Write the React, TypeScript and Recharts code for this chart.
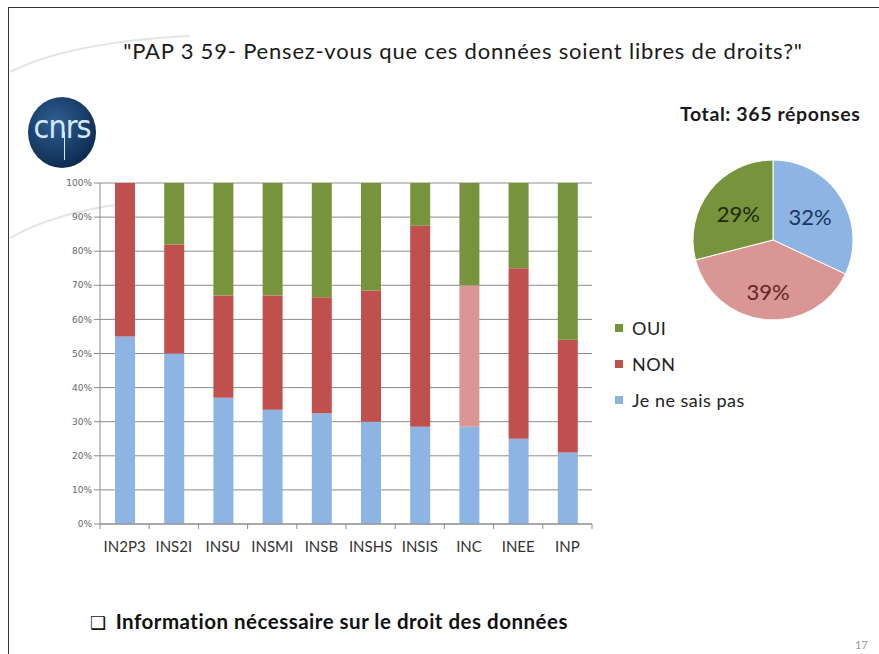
import React from 'react';
import { BarChart, Bar, XAxis, YAxis, CartesianGrid, Cell, PieChart, Pie } from 'recharts';

// Bar chart: share of answers per institute (percent, bottom to top)
const categories = ['IN2P3', 'INS2I', 'INSU', 'INSMI', 'INSB', 'INSHS', 'INSIS', 'INC', 'INEE', 'INP'];
const jeNeSaisPas = [55, 50, 37, 33.5, 32.5, 30, 28.5, 28.5, 25, 21];
const non = [45, 32, 30, 33.5, 34, 38.5, 59, 41.5, 50, 33];
const oui = [0, 18, 33, 33, 33.5, 31.5, 12.5, 30, 25, 46];
const yTicks = [0, 10, 20, 30, 40, 50, 60, 70, 80, 90, 100];

// Pie: overall answers
const pieNames = ['Je ne sais pas', 'NON', 'OUI'];
const pieValues = [32, 39, 29];

const BLUE = '#8EB4E3';
const RED = '#C0504D';
const PINK = '#D99694';
const GREEN = '#77933C';
const HIGHLIGHT = 'INC';

const FONT = 'Lato, "Open Sans", sans-serif';

const barData = categories.map((name, i) => ({
  name,
  jnsp: jeNeSaisPas[i],
  non: non[i],
  oui: oui[i],
}));

const pieData = pieNames.map((name, i) => ({ name, value: pieValues[i] }));
const PIE_COLORS = [BLUE, PINK, GREEN];
const PIE_TEXT = ['#17375E', '#632523', '#1D2A0C'];

const legendItems = [
  { label: 'OUI', color: GREEN },
  { label: 'NON', color: RED },
  { label: 'Je ne sais pas', color: BLUE },
];

// chart geometry (layout only)
const CHART_W = 560;
const CHART_H = 400;
const MARGIN = { top: 13, right: 8, left: 0, bottom: 6 };
const Y_W = 60;
const X_H = 40;
const AXIS_Y = CHART_H - MARGIN.bottom - X_H;
const BAND = (CHART_W - MARGIN.left - MARGIN.right - Y_W) / categories.length;

const CategoryTick = (props: any) => {
  const { x, y, payload, index } = props;
  return (
    <g>
      <line x1={x - BAND / 2} y1={AXIS_Y} x2={x - BAND / 2} y2={AXIS_Y + 5} stroke="#8c8c8c" />
      {index === categories.length - 1 && (
        <line x1={x + BAND / 2} y1={AXIS_Y} x2={x + BAND / 2} y2={AXIS_Y + 5} stroke="#8c8c8c" />
      )}
      <text x={x} y={y} dy={20} textAnchor="middle" fontSize={15} fill="#333" fontFamily={FONT}>
        {payload.value}
      </text>
    </g>
  );
};

const renderPieLabel = ({ cx, cy, midAngle, percent, index }: any) => {
  const RADIAN = Math.PI / 180;
  const r = index === 1 ? 52 : 44;
  const x = cx + r * Math.cos(-midAngle * RADIAN);
  const y = cy + r * Math.sin(-midAngle * RADIAN);
  return (
    <text x={x} y={y} textAnchor="middle" dominantBaseline="central" fontSize={22} fill={PIE_TEXT[index]} fontFamily={FONT}>
      {`${Math.round(percent * 100)}%`}
    </text>
  );
};

export default function App() {
  return (
    <div style={{ position: 'absolute', left: 0, top: 0, width: 879, height: 654, background: '#fff', overflow: 'hidden', fontFamily: FONT }}>
      {/* slide frame */}
      <div style={{ position: 'absolute', left: 8, top: 7, right: -2, bottom: -2, borderTop: '1.5px solid #333', borderLeft: '1.5px solid #333' }} />

      {/* faint decorative arcs */}
      <svg width={879} height={654} style={{ position: 'absolute', left: 0, top: 0 }}>
        <path d="M 10 72 Q 70 42 190 36" stroke="#e4e4e4" strokeWidth={2} fill="none" />
        <path d="M 10 238 Q 55 212 130 203" stroke="#e4e4e4" strokeWidth={2} fill="none" />
      </svg>

      {/* logo */}
      <div style={{ position: 'absolute', left: 28, top: 97, width: 68, height: 71, borderRadius: '50%', background: 'radial-gradient(circle at 40% 35%, #2e5f93, #0e2c52 75%)' }}>
        <div style={{ position: 'absolute', left: 0, right: 0, top: 11, textAlign: 'center', color: '#d6e8f7', fontSize: 32, fontFamily: '"Liberation Sans Narrow", "DejaVu Sans Condensed", sans-serif', letterSpacing: -1 }}>
          cnrs
        </div>
        <div style={{ position: 'absolute', left: 36, top: 35, width: 1, height: 28, background: '#d6e8f7' }} />
      </div>

      {/* title */}
      <div style={{ position: 'absolute', left: 0, width: 926, top: 37, textAlign: 'center', fontSize: 22, letterSpacing: 0.8, color: '#1a1a1a' }}>
        "PAP 3 59- Pensez-vous que ces données soient libres de droits?"
      </div>

      <div style={{ position: 'absolute', left: 680, top: 102, fontSize: 19.5, letterSpacing: 0.6, fontWeight: 700, color: '#1a1a1a' }}>
        Total: 365 réponses
      </div>

      {/* stacked bars */}
      <div style={{ position: 'absolute', left: 40, top: 170 }}>
        <BarChart width={CHART_W} height={CHART_H} data={barData} margin={MARGIN} barSize={20}>
          <CartesianGrid vertical={false} stroke="#8c8c8c" />
          <XAxis
            dataKey="name"
            height={X_H}
            interval={0}
            axisLine={{ stroke: '#8c8c8c' }}
            tickLine={false}
            tick={<CategoryTick />}
          />
          <YAxis
            width={Y_W}
            domain={[0, 100]}
            ticks={yTicks}
            tickFormatter={(v: number) => `${v}%`}
            axisLine={{ stroke: '#8c8c8c' }}
            tickLine={{ stroke: '#8c8c8c' }}
            tickSize={6}
            tick={{ fontSize: 9, fill: '#666', fontFamily: '"DejaVu Sans", sans-serif' }}
          />
          <Bar dataKey="jnsp" stackId="a" fill={BLUE} isAnimationActive={false} />
          <Bar dataKey="non" stackId="a" fill={RED} isAnimationActive={false}>
            {barData.map((d, i) => (
              <Cell key={`non-${i}`} fill={d.name === HIGHLIGHT ? PINK : RED} />
            ))}
          </Bar>
          <Bar dataKey="oui" stackId="a" fill={GREEN} isAnimationActive={false} />
        </BarChart>
      </div>

      {/* legend */}
      <div style={{ position: 'absolute', left: 615, top: 310 }}>
        {legendItems.map((it) => (
          <div key={it.label} style={{ display: 'flex', alignItems: 'center', height: 36, fontSize: 18, letterSpacing: 0.5, color: '#222' }}>
            <span style={{ width: 8, height: 8, background: it.color, marginRight: 9, display: 'inline-block' }} />
            {it.label}
          </div>
        ))}
      </div>

      {/* overall pie */}
      <div style={{ position: 'absolute', left: 678, top: 145 }}>
        <PieChart width={180} height={180}>
          <Pie
            data={pieData}
            dataKey="value"
            cx={90}
            cy={90}
            outerRadius={80}
            startAngle={90}
            endAngle={-270}
            stroke="#fff"
            strokeWidth={1}
            labelLine={false}
            label={renderPieLabel}
            isAnimationActive={false}
          >
            {pieData.map((d, i) => (
              <Cell key={`p-${i}`} fill={PIE_COLORS[i]} />
            ))}
          </Pie>
        </PieChart>
      </div>

      {/* footer */}
      <div style={{ position: 'absolute', left: 90, top: 609, fontSize: 20.5, letterSpacing: 0.5, fontWeight: 700, color: '#111', whiteSpace: 'nowrap' }}>
        <span style={{ fontFamily: '"DejaVu Sans", sans-serif', fontWeight: 400, fontSize: 18, marginRight: 9 }}>❑</span>
        Information nécessaire sur le droit des données
      </div>
      <div style={{ position: 'absolute', left: 855, top: 638, fontSize: 11, color: '#999' }}>17</div>
    </div>
  );
}
